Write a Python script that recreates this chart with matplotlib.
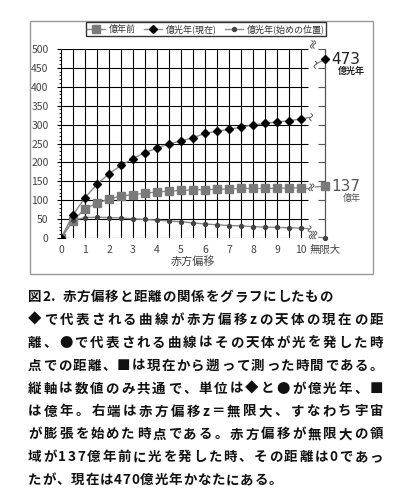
import numpy as np
import matplotlib
matplotlib.use("Agg")
import matplotlib.pyplot as plt
from matplotlib.patches import Rectangle

plt.rcParams['font.family'] = ['Noto Sans CJK JP', 'DejaVu Sans']

# data
z = [0, 0.5, 1, 1.5, 2, 2.5, 3, 3.5, 4, 4.5, 5, 5.5, 6, 6.5, 7, 7.5, 8, 8.5, 9, 9.5, 10]
years_ago = [0, 45, 78, 92, 103, 111, 115, 118, 122, 124, 126, 127, 128, 129, 130, 131, 131, 131, 132, 132, 133]
dist_now = [0, 61, 107, 142, 170, 192, 210, 226, 238, 249, 257, 265, 277, 282, 288, 293, 299, 303, 307, 310, 315]
dist_emit = [0, 47, 54, 55, 54, 53, 51, 49, 47, 45, 43, 40, 37, 35, 33, 32, 30, 29, 28, 27, 26]
z_inf = 11
inf_years_ago = 137
inf_dist_now = 473
inf_dist_emit = 0

x_ticks = [0, 1, 2, 3, 4, 5, 6, 7, 8, 9, 10, 11]
x_labels = ['0', '1', '2', '3', '4', '5', '6', '7', '8', '9', '10', '無限大']
y_ticks = list(range(0, 501, 50))
legend_labels = ['億年前', '億光年(現在)', '億光年(始めの位置)']

caption = [
    '図2. 赤方偏移と距離の関係をグラフにしたもの',
    '◆で代表される曲線が赤方偏移zの天体の現在の距',
    '離、●で代表される曲線はその天体が光を発した時',
    '点での距離、■は現在から遡って測った時間である。',
    '縦軸は数値のみ共通で、単位は◆と●が億光年、■',
    'は億年。右端は赤方偏移z＝無限大、すなわち宇宙',
    'が膨張を始めた時点である。赤方偏移が無限大の領',
    '域が137億年前に光を発した時、その距離は0であっ',
    'たが、現在は470億光年かなたにある。',
]

fig = plt.figure(figsize=(3.93, 5.0), dpi=100)
fig.patches.append(Rectangle((30 / 393, 1 - 274 / 500), 343 / 393, 253 / 500,
                             transform=fig.transFigure, fill=False,
                             edgecolor='#999999', linewidth=1.0))

ax = fig.add_axes([61 / 393, 1 - 238 / 500, 264 / 393, 189 / 500])
ax.set_xlim(0, 11)
ax.set_ylim(0, 500)
for s in ['top', 'bottom', 'left']:
    ax.spines[s].set_visible(False)
ax.spines['right'].set_color('#555555')
ax.spines['right'].set_linewidth(0.9)

# grid
gx = np.arange(0, 10.01, 0.5)
ax.vlines(gx, 0, 500, color='black', linewidth=0.8, zorder=1)
ax.hlines(y_ticks, 0, 10.3, color='black', linewidth=0.8, zorder=1)
ax.hlines(y_ticks, 10.72, 11, color='#555555', linewidth=0.8, zorder=1)

ax.set_xticks(x_ticks)
ax.set_xticklabels(x_labels)
ax.set_yticks(y_ticks)
ax.set_yticks(np.arange(0, 501, 10), minor=True)
ax.tick_params(axis='x', length=0, labelsize=7.5, labelcolor='#444444', pad=5)
ax.tick_params(axis='y', which='major', length=3, labelsize=7.5, labelcolor='#444444', pad=6, right=False)
ax.tick_params(axis='y', which='minor', length=1.5, right=False)
ax.set_xlabel('赤方偏移', fontsize=8, color='#444444', labelpad=1)

line_c = '#8a8a8a'
ax.plot(z, years_ago, '-', color=line_c, lw=1.0, marker='s', ms=5.5,
        mfc='#7a7a7a', mec='#7a7a7a', zorder=3, label=legend_labels[0])
ax.plot(z, dist_now, '-', color=line_c, lw=1.0, marker='D', ms=4.5,
        mfc='black', mec='black', zorder=4, label=legend_labels[1])
ax.plot(z, dist_emit, '-', color=line_c, lw=1.0, marker='o', ms=2.8,
        mfc='#444444', mec='#444444', zorder=3, label=legend_labels[2])

# infinity points
ax.plot([z_inf], [inf_dist_now], 'D', ms=4.5, color='black', clip_on=False, zorder=5)
ax.plot([z_inf], [inf_years_ago], 's', ms=5.5, color='#7a7a7a', clip_on=False, zorder=5)
ax.plot([z_inf], [inf_dist_emit], 'o', ms=2.8, color='#444444', clip_on=False, zorder=5)


def squiggle(x, y, w=0.12, h=14, n=1, gap=0.12):
    t = np.linspace(-1, 1, 30)
    for k in range(n):
        xs = x + k * gap + w * 0.5 * np.sin(np.pi * t)
        ys = y + h * t
        ax.plot(xs, ys, color='#555555', lw=0.7, clip_on=False, zorder=2)


# break marks and connectors
ax.plot([z[-1], 10.35], [dist_now[-1], dist_now[-1] + 4], color=line_c, lw=1.0, clip_on=False)
squiggle(10.42, dist_now[-1] + 5, h=9)
ax.plot([10.65, z_inf], [inf_dist_now - 12, inf_dist_now], color=line_c, lw=1.0, clip_on=False)
squiggle(10.6, inf_dist_now - 15, h=9)
squiggle(10.45, 512, h=10, n=2, gap=0.1)

ax.plot([z[-1], 10.3], [years_ago[-1], years_ago[-1]], color=line_c, lw=1.0, clip_on=False)
squiggle(10.38, years_ago[-1] + 1, h=9, n=2, gap=0.1)
ax.plot([10.6, z_inf], [years_ago[-1] + 2, inf_years_ago], color=line_c, lw=1.0, clip_on=False)

ax.plot([z[-1], 10.3], [dist_emit[-1], dist_emit[-1] - 1], color=line_c, lw=1.0, clip_on=False)
squiggle(10.36, dist_emit[-1] - 2, h=8)
squiggle(10.4, 8, h=10, n=3, gap=0.1)
ax.plot([10.75, z_inf], [2, inf_dist_emit], color=line_c, lw=1.0, clip_on=False)

# right-hand value labels
ax.text(11.25, inf_dist_now, str(inf_dist_now), fontsize=11, color='#222222',
        va='center', ha='left', family=['DejaVu Sans'])
ax.text(11.55, inf_dist_now - 32, '億光年', fontsize=6.5, fontweight='bold',
        color='#222222', va='center', ha='left')
ax.text(11.25, inf_years_ago, str(inf_years_ago), fontsize=11, color='#555555',
        va='center', ha='left', family=['DejaVu Sans'])
ax.text(11.75, inf_years_ago - 32, '億年', fontsize=6.5, color='#555555',
        va='center', ha='left')

fig.legend(loc='center', bbox_to_anchor=(206 / 393, 1 - 29 / 500), ncol=3,
           fontsize=6.5, frameon=True, fancybox=False, edgecolor='black',
           borderpad=0.2, handlelength=2.0, handletextpad=0.4, columnspacing=0.9,
           labelcolor='#333333', borderaxespad=0)

# caption: characters placed one by one, full lines justified to the box width
renderer = fig.canvas.get_renderer()
x_left, x_right = 28.0, 383.0
y0 = 297
cap_kw = dict(fontsize=9.7, fontweight='bold', color='#111111', va='center', ha='left')
for i, line in enumerate(caption):
    ypos = 1 - (y0 + i * 22.9) / 500
    widths = []
    for ch in line:
        t = fig.text(0, 0, ch, **cap_kw)
        widths.append(t.get_window_extent(renderer).width if ch != ' ' else 5.0)
        t.remove()
    total = sum(widths)
    if i in (0, len(caption) - 1):
        extra = 0.8
    else:
        extra = (x_right - x_left - total) / (len(line) - 1)
    x = x_left
    for ch, w in zip(line, widths):
        if ch != ' ':
            fig.text(x / 393, ypos, ch, **cap_kw)
        x += w + extra

fig.savefig('out.png', dpi=100)
